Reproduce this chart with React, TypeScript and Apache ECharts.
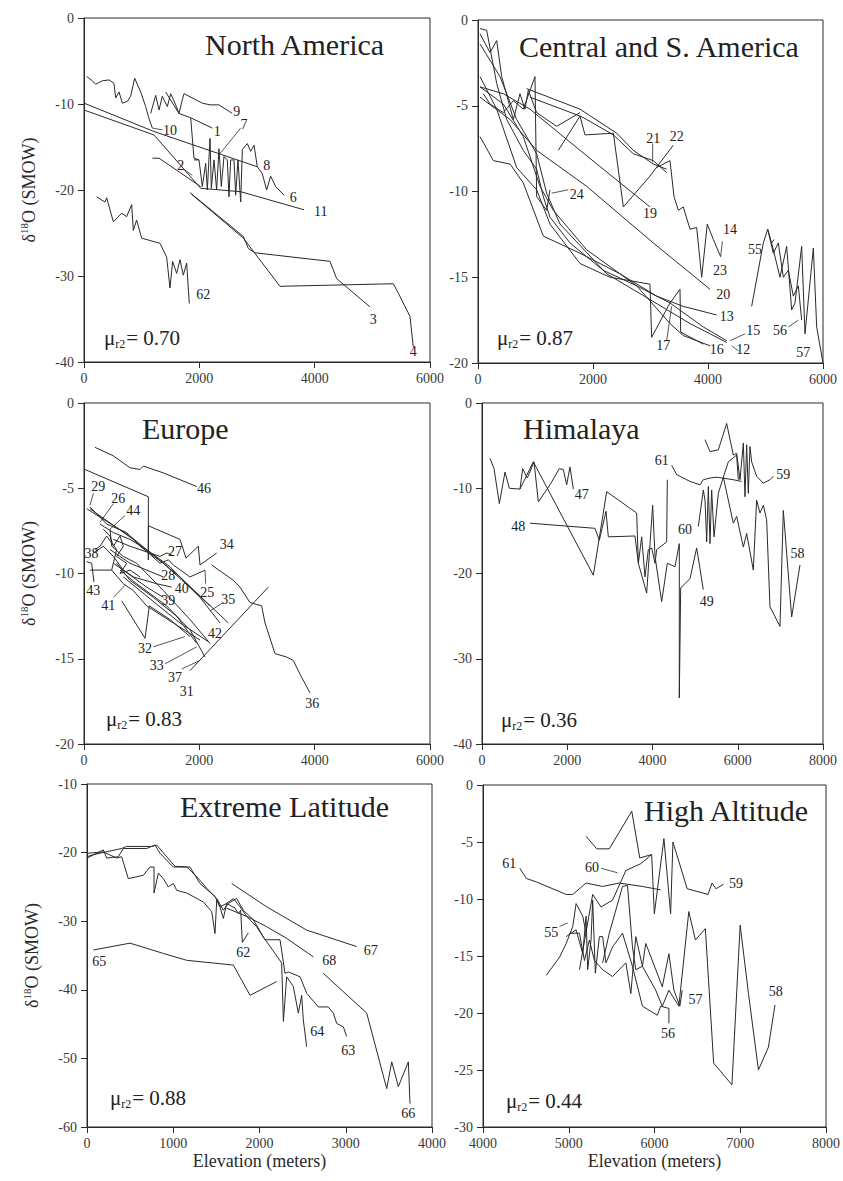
import React, { useEffect, useRef } from "react";
import * as echarts from "echarts";

type Pt = [number, number];
type Lbl = [string, number, number];

// ---------------- North America ----------------
const naXTicks = [0, 2000, 4000, 6000];
const naYTicks = [-40, -30, -20, -10, 0];
const na1: Pt[] = [[1416, -8.6], [1647, -11.1], [1850, -11.6], [2225, -12.8]];
const na2: Pt[] = [[1185, -16.3], [1301, -16.3], [2023, -19.6]];
const na3: Pt[] = [[1838, -20.3], [2763, -25.4], [2850, -26.8], [2965, -27.3], [4266, -28.3], [4381, -30.3], [4959, -33.6]];
const na4: Pt[] = [[1867, -20.5], [2763, -25.6], [3399, -31.2], [5364, -30.9], [5451, -32.0], [5653, -34.7], [5711, -38.3]];
const na6: Pt[] = [[1907, -16.5], [1994, -16.5], [2052, -19.6], [2110, -16.9], [2139, -20.0], [2185, -14.0], [2208, -19.8], [2254, -16.5], [2300, -20.0], [2341, -15.2], [2381, -19.6], [2428, -16.1], [2485, -16.5], [2514, -20.8], [2543, -16.5], [2601, -16.5], [2630, -20.6], [2670, -16.5], [2717, -21.4], [2746, -15.3], [2832, -14.6], [2890, -15.5], [2948, -14.8], [3006, -17.3], [3092, -18.1], [3167, -20.0], [3237, -18.4], [3324, -19.6], [3468, -20.6]];
const na7: Pt[] = [[1850, -11.6], [1907, -16.3], [1994, -16.5]];
const na8: Pt[] = [[0, -9.9], [1214, -13.2], [3006, -17.3]];
const na9: Pt[] = [[1156, -11.1], [1243, -9.0], [1301, -10.7], [1358, -9.1], [1445, -10.3], [1503, -8.8], [1590, -10.1], [1647, -11.1], [1705, -9.5], [1734, -8.8], [2052, -9.9], [2185, -10.1], [2341, -10.1], [2572, -11.1]];
const na10: Pt[] = [[46, -6.8], [145, -7.3], [202, -7.7], [318, -7.3], [434, -7.2], [520, -7.6], [549, -9.3], [607, -8.6], [665, -9.9], [751, -9.7], [809, -9.1], [879, -7.0], [983, -8.6], [1069, -10.3], [1127, -11.7], [1185, -12.8]];
const na11: Pt[] = [[0, -10.7], [1214, -13.6], [2023, -19.8], [2717, -20.2], [3815, -22.3]];
const na62: Pt[] = [[220, -20.8], [364, -21.4], [393, -20.9], [509, -23.7], [653, -22.7], [740, -23.1], [827, -21.7], [855, -24.7], [913, -23.5], [1000, -25.6], [1318, -26.2], [1433, -27.8], [1491, -31.4], [1537, -28.3], [1607, -29.7], [1665, -28.1], [1722, -29.9], [1780, -28.5], [1826, -33.2]];
const naLabels: Lbl[] = [["62", 2069, -32.2], ["3", 5017, -35.1], ["4", 5711, -38.8], ["10", 1491, -13.1], ["9", 2650, -10.9], ["1", 2312, -13.2], ["7", 2774, -12.4], ["8", 3167, -17.1], ["6", 3630, -20.9], ["11", 4104, -22.5], ["2", 1676, -17.1]];
const naLeaders: Pt[][] = [[[1185, -12.8], [1360, -13.0]], [[2341, -15.9], [2717, -12.8]], [[1734, -17.6], [1878, -18.3]]];

// ---------------- Central and S. America ----------------
const csXTicks = [0, 2000, 4000, 6000];
const csYTicks = [-20, -15, -10, -5, 0];
const cs12: Pt[] = [[35, -1.4], [383, -3.3], [672, -5.8], [1020, -7.8], [1194, -10.1], [1426, -11.9], [2238, -14.8], [2991, -16.3], [3687, -17.7], [4325, -18.8]];
const cs13: Pt[] = [[35, -6.8], [267, -8.2], [557, -8.4], [788, -9.5], [1136, -12.6], [1774, -13.6], [2470, -14.8], [3107, -16.1], [3571, -16.7], [4151, -17.2]];
const cs14: Pt[] = [[3107, -8.6], [3339, -8.2], [3409, -10.3], [3484, -11.1], [3571, -10.9], [3687, -12.2], [3803, -12.1], [3890, -15.0], [3988, -11.9], [4093, -12.8], [4220, -13.8]];
const cs15: Pt[] = [[35, -3.9], [441, -4.9], [788, -6.8], [1078, -9.7], [1310, -11.1], [1890, -13.4], [2759, -15.5], [3339, -16.5], [3919, -17.9], [4325, -18.7]];
const cs16: Pt[] = [[35, -0.5], [151, -0.6], [325, -3.7], [499, -5.8], [788, -7.6], [1020, -8.7], [1136, -10.3], [1252, -11.5], [1600, -13.0], [2180, -14.6], [2759, -15.5], [3339, -17.7], [3571, -18.4], [4035, -19.0]];
const cs17: Pt[] = [[35, -3.3], [325, -5.2], [672, -8.6], [1020, -9.9], [1252, -11.9], [1774, -14.2], [2296, -15.0], [2991, -15.4], [3020, -18.5], [3339, -16.5], [3513, -15.7], [3525, -18.2], [3919, -18.9]];
const cs18: Pt[] = [[1397, -7.6], [1774, -5.6], [1890, -5.8], [2354, -6.7], [2701, -7.8], [3049, -8.2], [3281, -8.9]];
const cs19: Pt[] = [[35, -3.9], [441, -4.3], [904, -5.2], [1774, -7.6], [2991, -10.9]];
const cs20: Pt[] = [[35, -4.5], [557, -5.8], [1020, -7.6], [1890, -9.7], [3049, -13.0], [4035, -15.7]];
const cs21: Pt[] = [[846, -4.0], [1774, -5.2], [2412, -6.6], [2701, -7.6], [3049, -8.4], [3281, -8.7]];
const cs22: Pt[] = [[904, -4.5], [1774, -5.6], [1861, -6.7], [2354, -6.6], [2528, -10.9], [2991, -9.1], [3397, -7.3]];
const cs24: Pt[] = [[93, -4.3], [209, -4.9], [441, -5.4], [615, -4.7], [788, -5.2], [991, -3.3], [1020, -10.3], [1194, -11.1], [1252, -9.9]];
const csTop: Pt[] = [[35, -0.8], [209, -1.9], [325, -1.2], [412, -3.3], [615, -5.8], [730, -4.3], [817, -5.2], [875, -4.1], [1020, -5.4], [1368, -6.2], [1774, -5.4]];
const cs55: Pt[] = [[4759, -16.7], [4962, -13.0], [5038, -12.2], [5107, -13.0], [5148, -12.8]];
const cs56: Pt[] = [[5038, -12.2], [5136, -13.6], [5223, -13.0], [5310, -15.0], [5397, -14.6], [5484, -16.1], [5571, -15.5], [5629, -17.5]];
const cs57: Pt[] = [[5107, -13.0], [5252, -15.0], [5368, -13.2], [5455, -16.9], [5513, -16.5], [5629, -13.2], [5687, -18.3], [5832, -13.3], [5890, -17.9], [6000, -20.0]];
const csLabels: Lbl[] = [["21", 3049, -6.9], ["22", 3455, -6.8], ["24", 1716, -10.2], ["19", 2991, -11.3], ["14", 4383, -12.2], ["23", 4209, -14.6], ["20", 4267, -16.0], ["13", 4325, -17.3], ["15", 4788, -18.1], ["16", 4151, -19.2], ["12", 4614, -19.2], ["17", 3223, -19.0], ["55", 4817, -13.4], ["56", 5252, -18.1], ["57", 5658, -19.4]];
const csLeaders: Pt[][] = [[[3038, -7.2], [3038, -8.3]], [[1281, -10.1], [1571, -9.9]], [[4220, -13.8], [4250, -12.9]], [[4383, -18.7], [4643, -18.3]], [[4412, -19.0], [4528, -19.3]], [[3281, -18.7], [3368, -16.7]], [[5397, -17.9], [5571, -17.5]]];

// ---------------- Europe ----------------
const euXTicks = [0, 2000, 4000, 6000];
const euYTicks = [-20, -15, -10, -5, 0];
const eu25: Pt[] = [[104, -6.2], [855, -8.0], [1318, -9.4], [1463, -9.2], [1549, -9.5], [1838, -10.2], [2098, -9.8]];
const eu26: Pt[] = [[277, -7.1], [509, -7.6], [798, -8.0], [1087, -8.6], [1491, -9.6], [2011, -11.4], [2358, -12.9]];
const eu27: Pt[] = [[509, -8.0], [798, -8.4], [971, -8.6], [1318, -9.0], [1433, -8.8], [1520, -8.9]];
const eu28: Pt[] = [[451, -8.6], [798, -9.4], [1087, -9.8], [1376, -10.2]];
const eu29: Pt[] = [[104, -6.1], [393, -7.1], [740, -7.6], [971, -8.4], [1376, -9.4], [2185, -11.9]];
const eu31: Pt[] = [[1838, -15.7], [3196, -10.8]];
const eu32: Pt[] = [[653, -11.6], [1058, -13.8], [1133, -11.9], [1491, -12.7], [1838, -13.7]];
const eu33: Pt[] = [[566, -9.4], [798, -10.4], [1202, -11.4], [1607, -12.5], [1954, -14.1]];
const eu34: Pt[] = [[17, -3.9], [1116, -5.5], [1116, -9.2], [1116, -7.2], [1665, -8.0], [1769, -9.1], [1982, -8.4], [2012, -9.5], [2301, -8.8]];
const eu35: Pt[] = [[46, -6.2], [798, -7.8], [1665, -10.2], [2503, -12.9]];
const eu36: Pt[] = [[2214, -9.5], [2589, -10.4], [2705, -10.8], [2878, -11.7], [3081, -11.9], [3139, -12.9], [3312, -14.7], [3514, -14.9], [3630, -15.1], [3745, -15.9], [3919, -17.0]];
const eu37: Pt[] = [[624, -9.8], [913, -10.6], [1433, -11.9], [1838, -13.3], [2098, -14.9]];
const eu38: Pt[] = [[104, -9.8], [480, -9.8], [566, -8.6], [393, -7.8], [277, -8.4], [191, -8.6]];
const eu39: Pt[] = [[162, -8.8], [335, -8.4], [509, -9.0], [682, -9.8], [1087, -10.8], [1376, -11.4]];
const eu40: Pt[] = [[509, -9.4], [855, -10.2], [1260, -10.6], [1520, -10.8]];
const eu41: Pt[] = [[480, -9.8], [682, -10.6], [855, -11.0], [1087, -11.9], [1549, -12.9], [2011, -13.9]];
const eu42: Pt[] = [[682, -10.2], [1260, -11.8], [1665, -12.9], [2156, -14.0]];
const eu43: Pt[] = [[46, -9.3], [133, -9.4], [173, -10.5]];
const eu44: Pt[] = [[451, -7.4], [480, -8.4], [682, -9.0], [913, -9.4], [1376, -11.0], [1838, -12.7], [2185, -14.1]];
const eu46: Pt[] = [[191, -2.6], [509, -3.1], [798, -3.8], [971, -3.9], [1029, -3.7], [1376, -4.1], [1954, -4.9]];
const euStar: Pt[] = [[335, -7.4], [451, -7.8], [509, -8.4], [624, -7.8], [682, -8.4], [566, -9.0], [740, -9.4], [624, -10.0], [798, -9.8], [971, -10.2]];
const euLabels: Lbl[] = [["46", 2081, -5.0], ["29", 249, -4.9], ["26", 595, -5.6], ["44", 855, -6.3], ["38", 130, -8.8], ["27", 1578, -8.7], ["34", 2474, -8.3], ["28", 1462, -10.1], ["40", 1694, -10.9], ["25", 2139, -11.1], ["43", 162, -11.0], ["41", 422, -11.9], ["39", 1463, -11.6], ["35", 2503, -11.5], ["42", 2272, -13.5], ["32", 1058, -14.4], ["33", 1260, -15.4], ["37", 1578, -16.1], ["31", 1780, -16.9], ["36", 3959, -17.6]];
const euLeaders: Pt[][] = [[[162, -5.3], [104, -6.0]], [[509, -5.9], [277, -7.0]], [[711, -6.6], [451, -7.4]], [[2098, -9.8], [2110, -10.6]], [[509, -11.4], [711, -10.7]], [[2185, -12.2], [2416, -11.7]], [[1202, -14.3], [1751, -13.7]], [[1405, -15.3], [1954, -14.3]], [[1694, -15.6], [2011, -15.1]]];

// ---------------- Himalaya ----------------
const hiXTicks = [0, 2000, 4000, 6000, 8000];
const hiYTicks = [-40, -30, -20, -10, 0];
const hi47: Pt[] = [[188, -6.5], [282, -7.7], [407, -11.8], [540, -8.1], [641, -10.0], [891, -10.1], [954, -7.7], [1064, -8.8], [1220, -6.9], [1322, -11.6], [1595, -9.6], [1814, -7.7], [1908, -7.8], [1986, -9.6], [2064, -7.5], [2143, -10.1]];
const hi48: Pt[] = [[1126, -14.1], [2651, -14.7], [2753, -16.1], [2909, -12.7], [2964, -15.7], [3589, -15.6], [3668, -18.8], [3746, -15.7], [3824, -20.4], [3902, -17.2], [3980, -17.0], [4059, -18.8], [4098, -17.2], [4332, -16.3], [4348, -9.0]];
const hi49: Pt[] = [[891, -10.1], [1204, -6.9], [2612, -20.2], [2925, -10.4], [3628, -12.9], [3668, -18.8], [3863, -22.3], [4004, -12.0], [4059, -18.0], [4215, -23.3], [4348, -18.8], [4528, -19.2], [4629, -16.5], [4629, -34.6], [4661, -21.7], [4880, -20.6], [5036, -17.0], [5192, -21.9]];
const hi58: Pt[] = [[5662, -8.7], [5896, -14.1], [5974, -13.3], [6131, -16.9], [6209, -15.3], [6365, -19.6], [6443, -11.4], [6522, -12.9], [6600, -12.0], [6678, -13.7], [6756, -23.9], [6991, -26.2], [7069, -12.6], [7265, -25.1], [7460, -19.0]];
const hi59: Pt[] = [[5232, -4.3], [5349, -5.7], [5544, -5.5], [5740, -2.4], [5896, -6.1], [5974, -5.9], [6053, -9.0], [6131, -4.7], [6170, -11.0], [6209, -4.9], [6248, -10.6], [6287, -5.1], [6326, -6.9], [6443, -8.6], [6600, -9.4], [6756, -9.0], [6835, -8.6]];
const hi60: Pt[] = [[5075, -14.5], [5192, -10.2], [5232, -11.4], [5271, -16.3], [5310, -9.8], [5349, -16.5], [5388, -10.2], [5443, -15.7], [5544, -10.6], [5662, -8.7], [5779, -6.9], [5974, -6.1], [6013, -9.0]];
const hi61: Pt[] = [[4450, -7.3], [4567, -8.4], [4880, -9.2], [5114, -9.6], [5192, -9.0], [5349, -8.8], [5505, -8.7], [5896, -9.0], [6092, -9.2]];
const hiLabels: Lbl[] = [["47", 2338, -10.7], ["48", 852, -14.5], ["61", 4215, -6.7], ["59", 7069, -8.4], ["60", 4762, -14.8], ["58", 7400, -17.6], ["49", 5271, -23.3]];
const hiLeaders: Pt[][] = [];

// ---------------- Extreme Latitude ----------------
const exXTicks = [0, 1000, 2000, 3000, 4000];
const exYTicks = [-60, -50, -40, -30, -20, -10];
const ex62: Pt[] = [[0, -20.1], [189, -19.9], [344, -20.8], [402, -20.6], [479, -23.8], [653, -23.3], [730, -22.1], [777, -22.1], [777, -25.9], [827, -23.0], [885, -23.8], [943, -25.0], [1001, -24.5], [1040, -25.5], [1156, -25.9], [1349, -27.2], [1446, -28.6], [1484, -31.8], [1504, -26.9], [1542, -27.9], [1581, -29.6], [1619, -27.4], [1716, -28.1], [1755, -28.9], [1782, -28.4], [1801, -33.1], [1871, -31.7]];
const ex63: Pt[] = [[0, -20.8], [189, -19.6], [228, -20.8], [363, -20.6], [421, -19.4], [692, -19.4], [788, -18.9], [846, -20.1], [1001, -22.1], [1194, -22.1], [1310, -24.5], [1484, -26.4], [1542, -27.9], [1619, -27.4], [1697, -26.7], [1774, -27.9], [1851, -29.3], [1967, -30.8], [2064, -32.7], [2238, -32.7], [2296, -37.6], [2334, -37.4], [2470, -38.1], [2547, -40.5], [2682, -42.5], [2798, -42.5], [2856, -43.4], [2895, -44.9], [2972, -45.4], [3011, -46.8]];
const ex64: Pt[] = [[0, -20.6], [73, -20.3], [402, -19.4], [460, -19.1], [750, -19.1], [808, -18.9], [1020, -22.0], [1156, -22.1], [1272, -23.5], [1388, -25.2], [1504, -26.7], [1581, -28.4], [1639, -27.4], [1735, -26.7], [1813, -28.4], [1929, -29.8], [2045, -32.3], [2180, -34.7], [2257, -36.1], [2277, -44.6], [2315, -38.1], [2392, -39.5], [2450, -43.4], [2489, -40.8], [2508, -44.4], [2547, -48.3]];
const ex65: Pt[] = [[73, -34.2], [499, -33.2], [885, -34.7], [1156, -35.7], [1697, -36.4], [1890, -40.8], [2199, -38.8]];
const ex66: Pt[] = [[2740, -37.6], [3243, -43.4], [3475, -54.4], [3533, -50.5], [3610, -54.1], [3726, -50.5], [3745, -56.6]];
const ex67: Pt[] = [[1677, -24.5], [2083, -27.9], [2547, -31.3], [3127, -33.7]];
const ex68: Pt[] = [[1619, -28.1], [1851, -29.3], [2083, -30.8], [2315, -32.5], [2624, -35.2]];
const exLabels: Lbl[] = [["63", 3030, -48.8], ["64", 2671, -46.1], ["62", 1813, -34.6], ["65", 143, -35.9], ["67", 3289, -34.3], ["68", 2810, -35.8], ["66", 3726, -58.0]];
const exLeaders: Pt[][] = [];

// ---------------- High Altitude ----------------
const haXTicks = [4000, 5000, 6000, 7000, 8000];
const haYTicks = [-30, -25, -20, -15, -10, -5, 0];
const ha55: Pt[] = [[4738, -16.7], [4893, -15.1], [4970, -13.9], [5047, -12.4], [5086, -10.4], [5163, -11.5], [5202, -13.0]];
const ha56: Pt[] = [[4970, -13.3], [5086, -12.7], [5163, -14.8], [5202, -11.5], [5221, -16.2], [5260, -13.6], [5279, -10.1], [5310, -16.5], [5357, -13.3], [5395, -13.3], [5434, -15.6], [5511, -14.2], [5627, -13.0], [5743, -15.9], [5859, -19.4], [6033, -20.2], [6072, -19.4], [6168, -19.6], [6168, -20.9]];
const ha57: Pt[] = [[5009, -13.0], [5125, -13.0], [5183, -15.4], [5241, -13.6], [5299, -15.4], [5395, -16.2], [5511, -16.8], [5666, -15.6], [5724, -18.3], [5782, -13.3], [5859, -15.9], [5898, -13.9], [6091, -17.7], [6168, -14.8], [6226, -18.0], [6296, -19.4], [6323, -18.0]];
const ha58: Pt[] = [[5395, -15.6], [5473, -13.0], [5627, -8.9], [5685, -8.8], [5743, -14.2], [5782, -16.2], [5859, -15.9], [6014, -18.0], [6091, -19.4], [6168, -18.0], [6284, -19.4], [6400, -11.1], [6477, -13.6], [6593, -12.6], [6690, -24.4], [6903, -26.3], [6999, -12.3], [7096, -18.3], [7212, -25.0], [7328, -23.0], [7405, -19.3]];
const ha59: Pt[] = [[5202, -4.5], [5326, -5.6], [5473, -5.6], [5735, -2.3], [5828, -6.4], [5967, -6.1], [5998, -11.3], [6110, -4.7], [6188, -11.3], [6215, -5.0], [6381, -9.1], [6624, -9.6], [6671, -8.6], [6717, -9.1], [6806, -8.7]];
const ha60: Pt[] = [[5125, -16.2], [5279, -9.6], [5376, -10.7], [5511, -10.1], [5666, -7.5], [5840, -6.9], [5967, -6.1]];
const ha61: Pt[] = [[4429, -7.3], [4506, -8.2], [4622, -8.5], [4970, -9.6], [5047, -9.6], [5202, -8.6], [5395, -8.9], [5589, -8.6], [5859, -8.9], [6072, -9.2]];
const haLabels: Lbl[] = [["61", 4305, -6.9], ["60", 5272, -7.2], ["59", 6950, -8.6], ["55", 4796, -12.9], ["56", 6157, -21.8], ["57", 6477, -18.8], ["58", 7413, -18.1]];
const haLeaders: Pt[][] = [[[5376, -7.3], [5569, -7.7]], [[4893, -12.4], [4989, -12.1]]];

const FONT = "Liberation Serif";
const INK = "#2a2a2a";

interface Panel {
  rect: { left: number; top: number; width: number; height: number };
  xt: number[];
  yt: number[];
  lines: Pt[][];
  labels: Lbl[];
  leaders: Pt[][];
  title: string;
  tx: number;
  ty: number;
  mu: string;
  mx: number;
  my: number;
  yName: boolean;
  xName: boolean;
}

const panels: Panel[] = [
  { rect: { left: 84, top: 18, width: 346, height: 344 }, xt: naXTicks, yt: naYTicks, lines: [na1, na2, na3, na4, na6, na7, na8, na9, na10, na11, na62], labels: naLabels, leaders: naLeaders, title: "North America", tx: 205, ty: 44, mu: "0.70", mx: 104, my: 338, yName: true, xName: false },
  { rect: { left: 478, top: 20, width: 345, height: 343 }, xt: csXTicks, yt: csYTicks, lines: [cs12, cs13, cs14, cs15, cs16, cs17, cs18, cs19, cs20, cs21, cs22, cs24, csTop, cs55, cs56, cs57], labels: csLabels, leaders: csLeaders, title: "Central and S. America", tx: 519, ty: 46, mu: "0.87", mx: 497, my: 338, yName: false, xName: false },
  { rect: { left: 84, top: 403, width: 346, height: 341 }, xt: euXTicks, yt: euYTicks, lines: [eu25, eu26, eu27, eu28, eu29, eu31, eu32, eu33, eu34, eu35, eu36, eu37, eu38, eu39, eu40, eu41, eu42, eu43, eu44, eu46, euStar], labels: euLabels, leaders: euLeaders, title: "Europe", tx: 142, ty: 428, mu: "0.83", mx: 106, my: 719, yName: true, xName: false },
  { rect: { left: 482, top: 403, width: 341, height: 341 }, xt: hiXTicks, yt: hiYTicks, lines: [hi47, hi48, hi49, hi58, hi59, hi60, hi61], labels: hiLabels, leaders: hiLeaders, title: "Himalaya", tx: 523, ty: 428, mu: "0.36", mx: 501, my: 720, yName: false, xName: false },
  { rect: { left: 87, top: 784, width: 345, height: 343 }, xt: exXTicks, yt: exYTicks, lines: [ex62, ex63, ex64, ex65, ex66, ex67, ex68], labels: exLabels, leaders: exLeaders, title: "Extreme Latitude", tx: 180, ty: 806, mu: "0.88", mx: 110, my: 1098, yName: true, xName: true },
  { rect: { left: 483, top: 785, width: 345, height: 342 }, xt: haXTicks, yt: haYTicks, lines: [ha55, ha56, ha57, ha58, ha59, ha60, ha61], labels: haLabels, leaders: haLeaders, title: "High Altitude", tx: 644, ty: 810, mu: "0.44", mx: 506, my: 1101, yName: false, xName: true },
];

function buildOption(): any {
  const grid: any[] = [];
  const xAxis: any[] = [];
  const yAxis: any[] = [];
  const series: any[] = [];
  const graphic: any[] = [];
  const axisCommon = {
    axisLine: { show: true, onZero: false, lineStyle: { color: INK, width: 1 } },
    axisTick: { show: true, inside: false, length: 6, lineStyle: { color: INK, width: 1 } },
    splitLine: { show: false },
  };
  const fmt = (v: number) => String(v);
  panels.forEach((p, i) => {
    grid.push({ ...p.rect, show: true, borderColor: INK, borderWidth: 1, backgroundColor: "transparent" });
    xAxis.push({
      type: "value",
      gridIndex: i,
      min: p.xt[0],
      max: p.xt[p.xt.length - 1],
      interval: p.xt[1] - p.xt[0],
      ...axisCommon,
      axisLabel: { color: "#3a3a3a", fontFamily: FONT, fontSize: 14, margin: 9, showMinLabel: true, showMaxLabel: true, hideOverlap: false, formatter: fmt },
      name: p.xName ? "Elevation (meters)" : "",
      nameLocation: "middle",
      nameGap: 25,
      nameTextStyle: { fontFamily: FONT, fontSize: 18, color: INK },
    });
    yAxis.push({
      type: "value",
      gridIndex: i,
      min: p.yt[0],
      max: p.yt[p.yt.length - 1],
      interval: p.yt[1] - p.yt[0],
      ...axisCommon,
      axisLabel: { color: "#3a3a3a", fontFamily: FONT, fontSize: 14, margin: 10, showMinLabel: true, showMaxLabel: true, hideOverlap: false, formatter: fmt },
      name: p.yName ? "{a|δ}{b|18}{a|O (SMOW)}" : "",
      nameLocation: "middle",
      nameRotate: 90,
      nameGap: 44,
      nameTextStyle: {
        color: INK,
        rich: {
          a: { fontFamily: FONT, fontSize: 18, color: INK, lineHeight: 22 },
          b: { fontFamily: FONT, fontSize: 11, color: INK, lineHeight: 22, verticalAlign: "top", padding: [0, 0, 10, 0] },
        },
      },
    });
    p.lines.forEach((ln) => {
      series.push({
        type: "line",
        xAxisIndex: i,
        yAxisIndex: i,
        data: ln,
        showSymbol: false,
        symbol: "none",
        silent: true,
        lineStyle: { color: INK, width: 1 },
      });
    });
    p.leaders.forEach((ln) => {
      series.push({
        type: "line",
        xAxisIndex: i,
        yAxisIndex: i,
        data: ln,
        showSymbol: false,
        symbol: "none",
        silent: true,
        lineStyle: { color: INK, width: 0.8 },
      });
    });
    series.push({
      type: "scatter",
      xAxisIndex: i,
      yAxisIndex: i,
      silent: true,
      symbolSize: 0,
      itemStyle: { color: INK, opacity: 0 },
      data: p.labels.map((l) => ({ name: l[0], value: [l[1], l[2]] })),
      label: {
        show: true,
        position: [0, 0],
        align: "center",
        verticalAlign: "middle",
        formatter: "{b}",
        fontFamily: FONT,
        fontSize: 14,
        color: "#222222",
        opacity: 1,
        textBorderWidth: 0,
      },
    });
    graphic.push({
      type: "text",
      x: p.tx,
      y: p.ty,
      silent: true,
      style: { text: p.title, fontFamily: FONT, fontSize: 30, fill: "#222", verticalAlign: "middle", align: "left" },
    });
    graphic.push({
      type: "text",
      x: p.mx,
      y: p.my,
      silent: true,
      style: {
        text: "{m|μ}{s|r2}{m|= " + p.mu + "}",
        verticalAlign: "middle",
        align: "left",
        rich: {
          m: { fontFamily: FONT, fontSize: 21, fill: "#222", lineHeight: 23 },
          s: { fontFamily: FONT, fontSize: 12, fill: "#222", lineHeight: 23, verticalAlign: "bottom", padding: [0, 1, 0, 0] },
        },
      },
    });
  });
  return { animation: false, backgroundColor: "#ffffff", grid, xAxis, yAxis, series, graphic };
}

export default function App() {
  const ref = useRef<HTMLDivElement>(null);
  useEffect(() => {
    if (!ref.current) return;
    const chart = echarts.init(ref.current, undefined, { renderer: "svg" });
    chart.setOption(buildOption());
    return () => chart.dispose();
  }, []);
  return <div ref={ref} style={{ position: "absolute", left: 0, top: 0, width: 843, height: 1181 }} />;
}
